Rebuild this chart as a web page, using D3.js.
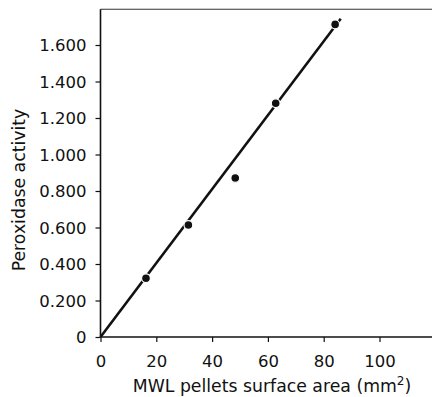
<!DOCTYPE html>
<html><head><meta charset="utf-8">
<script src="https://cdn.jsdelivr.net/npm/d3@7/dist/d3.min.js"></script>
<style>body{margin:0;background:#fff}svg{display:block}</style>
</head><body>
<svg id="c" width="432" height="397"></svg>
<script>
const xValues = [16.3, 31.5, 48.3, 62.8, 84.1];
const yValues = [0.322, 0.614, 0.871, 1.281, 1.713];
const fitLine = [[0, 0], [86.1, 1.744]];
const xTicks = [0, 20, 40, 60, 80, 100];
const yTicks = [0, 0.2, 0.4, 0.6, 0.8, 1.0, 1.2, 1.4, 1.6];
const yTickLabels = ["0", "0.200", "0.400", "0.600", "0.800", "1.000", "1.200", "1.400", "1.600"];
const xTitle = "MWL pellets surface area (mm";
const yTitle = "Peroxidase activity";

const svg = d3.select("#c");
const m = {l: 100.5, t: 9.5, r: 432, b: 337};
const x = d3.scaleLinear().domain([0, 118.5]).range([m.l, m.l + 118.5 * 2.79]);
const y = d3.scaleLinear().domain([0, 1.8]).range([m.b, m.b - 1.8 * 182.5]);
const font = "DejaVu Sans";
const ink = "#111";
const tickFs = 16.5, titleFs = 17.3;

// top border
svg.append("line").attr("x1", m.l).attr("x2", 432).attr("y1", y(1.796)).attr("y2", y(1.796))
  .attr("stroke", "#333").attr("stroke-width", 1.2);

const xAxis = svg.append("g").attr("transform", `translate(0,${m.b})`)
  .call(d3.axisBottom(x).tickValues(xTicks).tickSize(5).tickPadding(5).tickSizeOuter(0));
const yAxis = svg.append("g").attr("transform", `translate(${m.l},0)`)
  .call(d3.axisLeft(y).tickValues(yTicks).tickSize(5).tickPadding(9).tickSizeOuter(0)
    .tickFormat((d, i) => yTickLabels[i]));
[xAxis, yAxis].forEach(g => {
  g.select(".domain").attr("stroke", ink).attr("stroke-width", 1.6);
  g.selectAll(".tick line").attr("stroke", ink).attr("stroke-width", 1.2);
  g.selectAll("text").attr("fill", ink).attr("font-family", font).attr("font-size", tickFs);
});
yAxis.select(".domain").attr("d", `M0,${m.b}V${y(1.796)}`);
xAxis.select(".domain").attr("d", `M${m.l},0H432`);
yAxis.selectAll(".tick text").attr("dy", "0.36em");
xAxis.selectAll(".tick text").attr("y", 29.5).attr("dy", 0);

// fit line
svg.append("path").datum(fitLine)
  .attr("d", d3.line().x(d => x(d[0])).y(d => y(d[1])))
  .attr("stroke", ink).attr("stroke-width", 2.6).attr("fill", "none");

// points
svg.selectAll("circle.pt").data(xValues).join("circle").attr("class", "pt")
  .attr("cx", d => x(d)).attr("cy", (d, i) => y(yValues[i]))
  .attr("r", 4.4).attr("fill", ink).attr("stroke", "#fff").attr("stroke-width", 1.2);

// titles
const xt = svg.append("text").attr("x", 272).attr("y", 392).attr("text-anchor", "middle")
  .attr("font-family", font).attr("font-size", titleFs).attr("fill", ink);
xt.append("tspan").text(xTitle);
xt.append("tspan").attr("dy", -7).attr("font-size", 12).text("2");
xt.append("tspan").attr("dy", 7).text(")");

svg.append("text").attr("transform", "translate(25,190) rotate(-90)").attr("text-anchor", "middle")
  .attr("font-family", font).attr("font-size", titleFs).attr("fill", ink).text(yTitle);
</script>
</body></html>
